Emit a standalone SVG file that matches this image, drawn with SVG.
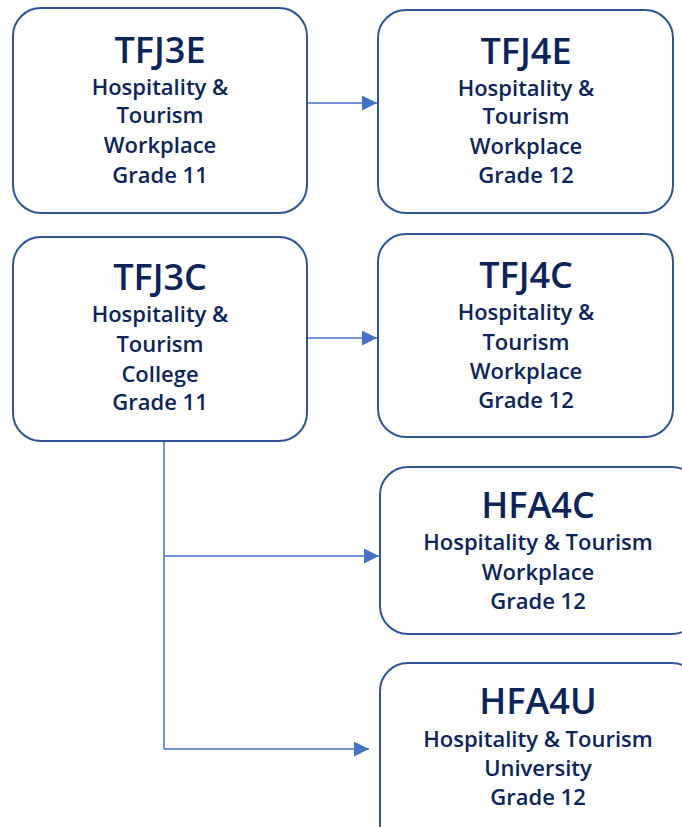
<svg xmlns="http://www.w3.org/2000/svg" width="682" height="827" viewBox="0 0 682 827">
<defs>
<style>
.box{fill:#fff;stroke:#2F5597;stroke-width:2}
.t{font-family:"Open Sans","Liberation Sans",sans-serif;font-weight:600;fill:#0C2457;text-anchor:middle}
.title{font-size:36px}
.sub{font-size:22px}
.conn{fill:none;stroke:#4472C4;stroke-width:1.5}
</style>
<marker id="ah" markerUnits="userSpaceOnUse" markerWidth="16" markerHeight="16" refX="15" refY="7.5" orient="auto">
<path d="M0,0 L15,7.5 L0,15 z" fill="#4472C4"/>
</marker>
</defs>
<rect width="682" height="827" fill="#fff"/>
<g id="connectors">
<path class="conn" d="M307,103 H377" marker-end="url(#ah)"/>
<path class="conn" d="M307,338 H377" marker-end="url(#ah)"/>
<path class="conn" d="M164,441 V749"/>
<path class="conn" d="M164,556 H379" marker-end="url(#ah)"/>
<path class="conn" d="M164,749 H369" marker-end="url(#ah)"/>
</g>
<g id="TFJ3E">
<rect class="box" x="13" y="8" width="294" height="205" rx="28"/>
<text class="t title" x="160" y="63">TFJ3E</text>
<text class="t sub" x="160" y="95">Hospitality &amp;</text>
<text class="t sub" x="160" y="123">Tourism</text>
<text class="t sub" x="160" y="153">Workplace</text>
<text class="t sub" x="160" y="183">Grade 11</text>
</g>
<g id="TFJ4E">
<rect class="box" x="378" y="10" width="295" height="203" rx="28"/>
<text class="t title" x="526" y="64">TFJ4E</text>
<text class="t sub" x="526" y="96">Hospitality &amp;</text>
<text class="t sub" x="526" y="124">Tourism</text>
<text class="t sub" x="526" y="154">Workplace</text>
<text class="t sub" x="526" y="183">Grade 12</text>
</g>
<g id="TFJ3C">
<rect class="box" x="13" y="237" width="294" height="204" rx="28"/>
<text class="t title" x="160" y="290">TFJ3C</text>
<text class="t sub" x="160" y="322">Hospitality &amp;</text>
<text class="t sub" x="160" y="352">Tourism</text>
<text class="t sub" x="160" y="382">College</text>
<text class="t sub" x="160" y="410">Grade 11</text>
</g>
<g id="TFJ4C">
<rect class="box" x="378" y="234" width="295" height="203" rx="28"/>
<text class="t title" x="526" y="288">TFJ4C</text>
<text class="t sub" x="526" y="320">Hospitality &amp;</text>
<text class="t sub" x="526" y="350">Tourism</text>
<text class="t sub" x="526" y="379">Workplace</text>
<text class="t sub" x="526" y="408">Grade 12</text>
</g>
<g id="HFA4C">
<rect class="box" x="380" y="467" width="320" height="167" rx="28"/>
<text class="t title" x="538" y="518">HFA4C</text>
<text class="t sub" x="538" y="550">Hospitality &amp; Tourism</text>
<text class="t sub" x="538" y="580">Workplace</text>
<text class="t sub" x="538" y="609">Grade 12</text>
</g>
<g id="HFA4U">
<rect class="box" x="380" y="663" width="320" height="190" rx="28"/>
<text class="t title" x="538" y="714">HFA4U</text>
<text class="t sub" x="538" y="747">Hospitality &amp; Tourism</text>
<text class="t sub" x="538" y="776">University</text>
<text class="t sub" x="538" y="805">Grade 12</text>
</g>
</svg>
